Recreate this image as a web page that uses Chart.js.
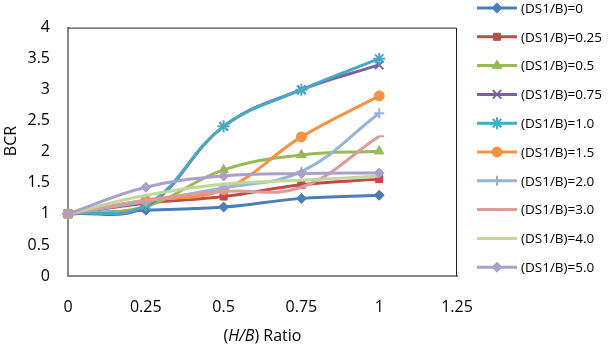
<!DOCTYPE html>
<html>
<head>
<meta charset="utf-8">
<script src="https://cdn.jsdelivr.net/npm/chart.js@4.4.1/dist/chart.umd.min.js"></script>
<style>
  html, body { margin: 0; padding: 0; background: #fff; }
  #wrap { width: 613px; height: 350px; position: relative; }
</style>
</head>
<body>
<div id="wrap"><canvas id="bcrChart"></canvas></div>
<script>
// H/B ratio on the x axis
const hbRatios = [0, 0.25, 0.5, 0.75, 1];
const xTicks = [0, 0.25, 0.5, 0.75, 1, 1.25];
const yTicks = [0, 0.5, 1, 1.5, 2, 2.5, 3, 3.5, 4];

const seriesNames = ['(DS1/B)=0', '(DS1/B)=0.25', '(DS1/B)=0.5', '(DS1/B)=0.75', '(DS1/B)=1.0',
    '(DS1/B)=1.5', '(DS1/B)=2.0', '(DS1/B)=3.0', '(DS1/B)=4.0', '(DS1/B)=5.0'];

// BCR values
const bcrDs0   = [1, 1.06, 1.11, 1.25, 1.30];
const bcrDs025 = [1, 1.17, 1.28, 1.47, 1.56];
const bcrDs05  = [1, 1.12, 1.71, 1.95, 2.01];
const bcrDs075 = [1, 1.12, 2.41, 3.00, 3.40];
const bcrDs10  = [1, 1.14, 2.41, 3.00, 3.50];
const bcrDs15  = [1, 1.22, 1.39, 2.24, 2.90];
const bcrDs20  = [1, 1.20, 1.42, 1.68, 2.62];
const bcrDs30  = [1, 1.22, 1.36, 1.43, 2.25];
const bcrDs40  = [1, 1.30, 1.48, 1.54, 1.61];
const bcrDs50  = [1, 1.43, 1.61, 1.65, 1.66];

const allSeries = [bcrDs0, bcrDs025, bcrDs05, bcrDs075, bcrDs10, bcrDs15, bcrDs20, bcrDs30, bcrDs40, bcrDs50];

const colors = ['#4A7EBB', '#BE4B48', '#98B954', '#7D60A0', '#46AAC5', '#F69240',
    '#97B3D8', '#E09A99', '#C0D89A', '#ABA0CB'];
const markers = ['rectRot', 'rect', 'triangle', 'crossRot', 'star', 'circle', 'cross', 'dash', false, 'rectRot'];
const markerSize = [5, 5, 5.5, 6, 6, 5, 5, 5, 0, 5];

const FONT = '"Open Sans", sans-serif';

const datasets = allSeries.map((vals, i) => ({
    label: seriesNames[i],
    data: vals.map((v, k) => ({ x: hbRatios[k], y: v })),
    borderColor: colors[i],
    backgroundColor: colors[i],
    borderWidth: 3,
    pointStyle: markers[i],
    pointRadius: markerSize[i],
    pointBorderWidth: (markers[i] === 'crossRot' || markers[i] === 'star' || markers[i] === 'cross' || markers[i] === 'dash') ? 2 : 1,
    pointHoverRadius: markerSize[i],
    tension: 0.4,
    clip: false,
    order: 10 - i
}));

// draws the top/right border, axis titles and the legend
const extras = {
    id: 'extras',
    beforeDatasetsDraw(chart) {
        const { ctx, chartArea: a } = chart;
        ctx.save();
        ctx.strokeStyle = '#222';
        ctx.lineWidth = 1;
        ctx.beginPath();
        ctx.moveTo(a.left, a.top + 0.5);
        ctx.lineTo(a.right - 0.5, a.top + 0.5);
        ctx.lineTo(a.right - 0.5, a.bottom);
        ctx.stroke();
        ctx.restore();
    },
    afterDraw(chart) {
        const { ctx, chartArea: a } = chart;
        ctx.save();
        ctx.fillStyle = '#000';
        ctx.textBaseline = 'middle';

        // y title
        ctx.font = '16px ' + FONT;
        ctx.save();
        ctx.translate(11, 141);
        ctx.rotate(-Math.PI / 2);
        ctx.textAlign = 'center';
        ctx.fillText('BCR', 0, 0);
        ctx.restore();

        // x title with italic H/B
        const parts = [['(', false], ['H/B', true], [') Ratio', false]];
        let total = 0;
        parts.forEach(p => {
            ctx.font = (p[1] ? 'italic ' : '') + '16px ' + FONT;
            total += ctx.measureText(p[0]).width;
        });
        let x = (a.left + a.right) / 2 - total / 2;
        ctx.textAlign = 'left';
        parts.forEach(p => {
            ctx.font = (p[1] ? 'italic ' : '') + '16px ' + FONT;
            ctx.fillText(p[0], x, 336);
            x += ctx.measureText(p[0]).width;
        });

        // legend
        chart.data.datasets.forEach((ds, i) => {
            const y = 8 + i * 28.8;
            ctx.strokeStyle = ds.borderColor;
            ctx.lineWidth = 3;
            ctx.beginPath();
            ctx.moveTo(477, y);
            ctx.lineTo(517, y);
            ctx.stroke();
            if (ds.pointStyle) {
                ctx.fillStyle = ds.backgroundColor;
                ctx.strokeStyle = ds.borderColor;
                ctx.lineWidth = ds.pointBorderWidth;
                Chart.helpers.drawPoint(ctx, {
                    pointStyle: ds.pointStyle,
                    radius: ds.pointRadius,
                    borderWidth: ds.pointBorderWidth,
                    rotation: 0
                }, 497, y);
            }
            ctx.fillStyle = '#000';
            ctx.font = '13.5px ' + FONT;
            ctx.textAlign = 'left';
            ctx.fillText(ds.label, 521, y + 1);
        });
        ctx.restore();
    }
};

new Chart(document.getElementById('bcrChart'), {
    type: 'line',
    data: { datasets: datasets },
    options: {
        responsive: true,
        maintainAspectRatio: false,
        animation: false,
        layout: { padding: { top: 5, right: 156, left: 0, bottom: 0 } },
        plugins: {
            legend: { display: false },
            tooltip: { enabled: false }
        },
        scales: {
            x: {
                type: 'linear',
                min: 0,
                max: 1.25,
                afterBuildTicks: scale => { scale.ticks = xTicks.map(v => ({ value: v })); },
                afterFit: scale => { scale.height = 74; },
                grid: { display: false, drawTicks: false },
                border: { display: true, color: '#868686', width: 2 },
                ticks: {
                    padding: 22,
                    color: '#000',
                    font: { family: FONT, size: 16 },
                    callback: v => String(v)
                }
            },
            y: {
                min: 0,
                max: 4,
                afterBuildTicks: scale => { scale.ticks = yTicks.map(v => ({ value: v })); },
                afterFit: scale => { scale.width = 68; },
                grid: { display: false, drawTicks: false },
                border: { display: true, color: '#868686', width: 2 },
                ticks: {
                    padding: 18,
                    color: '#000',
                    font: { family: FONT, size: 16 },
                    callback: v => String(v)
                }
            }
        }
    },
    plugins: [extras]
});
</script>
</body>
</html>
